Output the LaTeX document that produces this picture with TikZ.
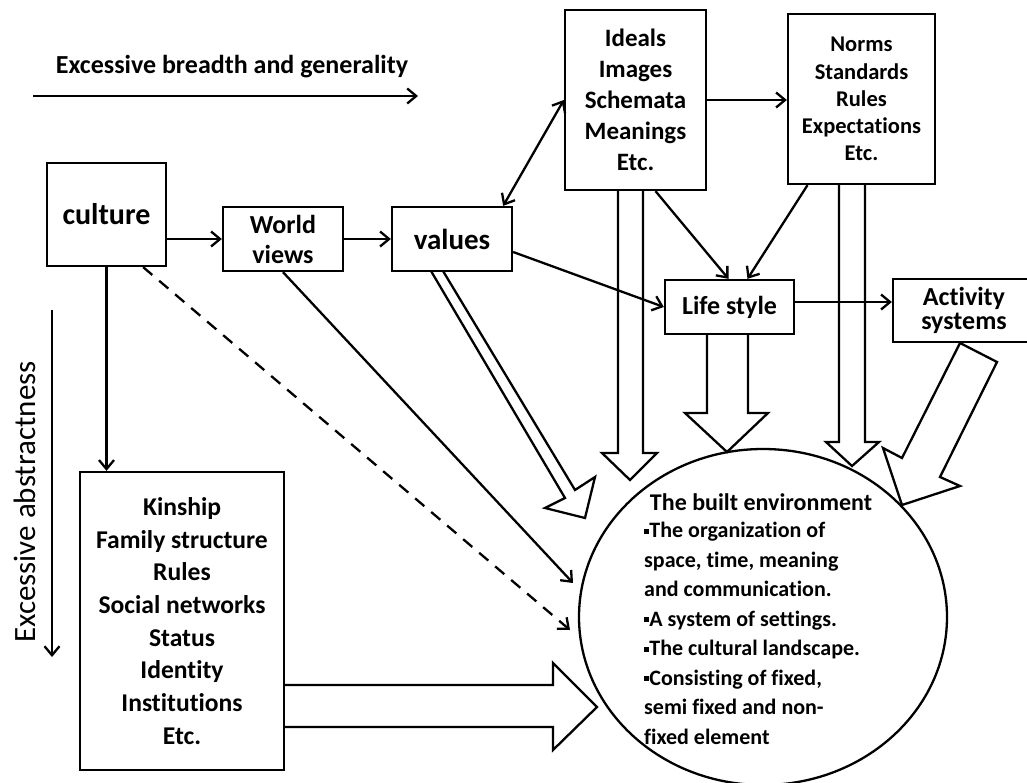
\documentclass[tikz,border=0pt]{standalone}
\usepackage{fontspec}
\setmainfont{Carlito}[Ligatures=NoCommon]
\usetikzlibrary{arrows.meta,shapes.geometric}
\newcommand{\sqb}{\rule[0.35ex]{0.24em}{0.24em}}
\begin{document}
\begin{tikzpicture}[x=1pt,y=-1pt, line width=2.3pt,
  box/.style={draw, rectangle, inner sep=0pt, align=center},
  arr/.style={-{Straight Barb[length=9pt,width=15pt]}},
  blk/.style={line width=2.3pt, line join=miter}]
\fill[white] (0,0) rectangle (1027,783);
\useasboundingbox (0,0) rectangle (1027,783);

% axis labels
\node[font=\bfseries\fontsize{26}{30}\selectfont] (lbltop) at (232,67) {Excessive breadth and generality};
\coordinate (ta) at (33,96);
\coordinate (tb) at (418,96);
\draw[arr] (ta) -- (tb);
\node[rotate=90, font=\fontsize{31}{35}\selectfont] (lblleft) at (25,502) {Excessive abstractness};
\coordinate (la) at (52,310);
\coordinate (lb) at (52,657);
\draw[arr] (la) -- (lb);

% boxes
\node[box, minimum width=119pt, minimum height=103pt, font=\bfseries\fontsize{30}{34}\selectfont] (culture) at (106.5,214.5) {culture};
\node[box, minimum width=120pt, minimum height=64pt, font=\bfseries\fontsize{26}{30}\selectfont] (wv) at (283,239) {World\\views};
\node[box, minimum width=120pt, minimum height=64pt, font=\bfseries\fontsize{29}{33}\selectfont] (values) at (452,239) {values};
\node[box, minimum width=141pt, minimum height=180pt, font=\bfseries\fontsize{25}{31}\selectfont] (ideals) at (635.5,100) {Ideals\\Images\\Schemata\\Meanings\\Etc.};
\node[box, minimum width=147pt, minimum height=170pt, font=\bfseries\fontsize{22.5}{27.2}\selectfont] (norms) at (861.5,99) {Norms\\Standards\\Rules\\Expectations\\Etc.};
\node[box, minimum width=129pt, minimum height=54pt, font=\bfseries\fontsize{26}{30}\selectfont] (life) at (729.5,307) {Life style};
\node[box, minimum width=142pt, minimum height=63pt, font=\bfseries\fontsize{26}{24}\selectfont] (act) at (964,310.5) {Activity\\systems};
\node[box, minimum width=204pt, minimum height=298pt, font=\bfseries\fontsize{25.6}{32.7}\selectfont] (kin) at (182,621) {Kinship\\Family structure\\Rules\\Social networks\\Status\\Identity\\Institutions\\Etc.};

% built environment
\node[draw, ellipse, minimum width=368pt, minimum height=336pt, inner sep=0pt] (env) at (763,617) {};
\node[font=\bfseries\fontsize{24}{28}\selectfont] (envt) at (761,502) {The built environment};
\node[anchor=north west, align=left, inner sep=0pt, font=\bfseries\fontsize{22}{29.5}\selectfont] (envb) at (643,521) {\sqb The organization of\\space, time, meaning\\and communication.\\\sqb A system of settings.\\\sqb The cultural landscape.\\\sqb Consisting of fixed,\\semi fixed and non-\\fixed element};

% arrow end points at the environment
\coordinate (ewv) at (573,583);
\coordinate (ecu) at (570,630);

% connectors
\draw[arr] (culture.east |- wv.west) -- (wv.west);
\draw[arr] (wv.east) -- (values.west);
\draw[arr] (culture.south) -- (culture.south |- kin.north);
\draw[arr, dashed, dash pattern=on 12pt off 9pt] ([xshift=-24pt]culture.south east) -- (ecu);
\draw[arr] (wv.south) -- (ewv);
\draw[{Straight Barb[length=9pt,width=15pt]}-{Straight Barb[length=9pt,width=15pt]}] ([xshift=-10pt]values.north east) -- (ideals.west);
\draw[arr] ([yshift=-13pt]values.east) -- (life.west);
\draw[arr] (ideals.east) -- (ideals.east -| norms.west);
\draw[arr] ([xshift=20pt]ideals.south) -- ([xshift=-1pt]life.north);
\draw[arr] ([xshift=-54pt]norms.south) -- ([xshift=18pt]life.north);
\draw[arr] ([yshift=5pt]life.east) -- ([yshift=5pt]life.east -| act.west);

% block arrows
\draw[blk] (618,190) -- (618,453) -- (602,453) -- (630,480) -- (657,453) -- (643,453) -- (643,190);
\draw[blk] (839,184) -- (839,442) -- (826,442) -- (852,466) -- (879,442) -- (865,442) -- (865,184);
\draw[blk] (707,334) -- (707,413) -- (685,413) -- (727,452) -- (768,413) -- (748,413) -- (748,334);
\draw[blk] (284,685) -- (553,685) -- (553,663) -- (597,707) -- (553,750) -- (553,727) -- (284,727);
\draw[blk] (431,271) -- (565,498) -- (545,508) -- (585,518) -- (595,477) -- (575,490) -- (443,271);
\draw[blk] (960,343) -- (997,362) -- (940,477) -- (960,486) -- (902,505) -- (883,448) -- (902,458) -- cycle;
\end{tikzpicture}
\end{document}
